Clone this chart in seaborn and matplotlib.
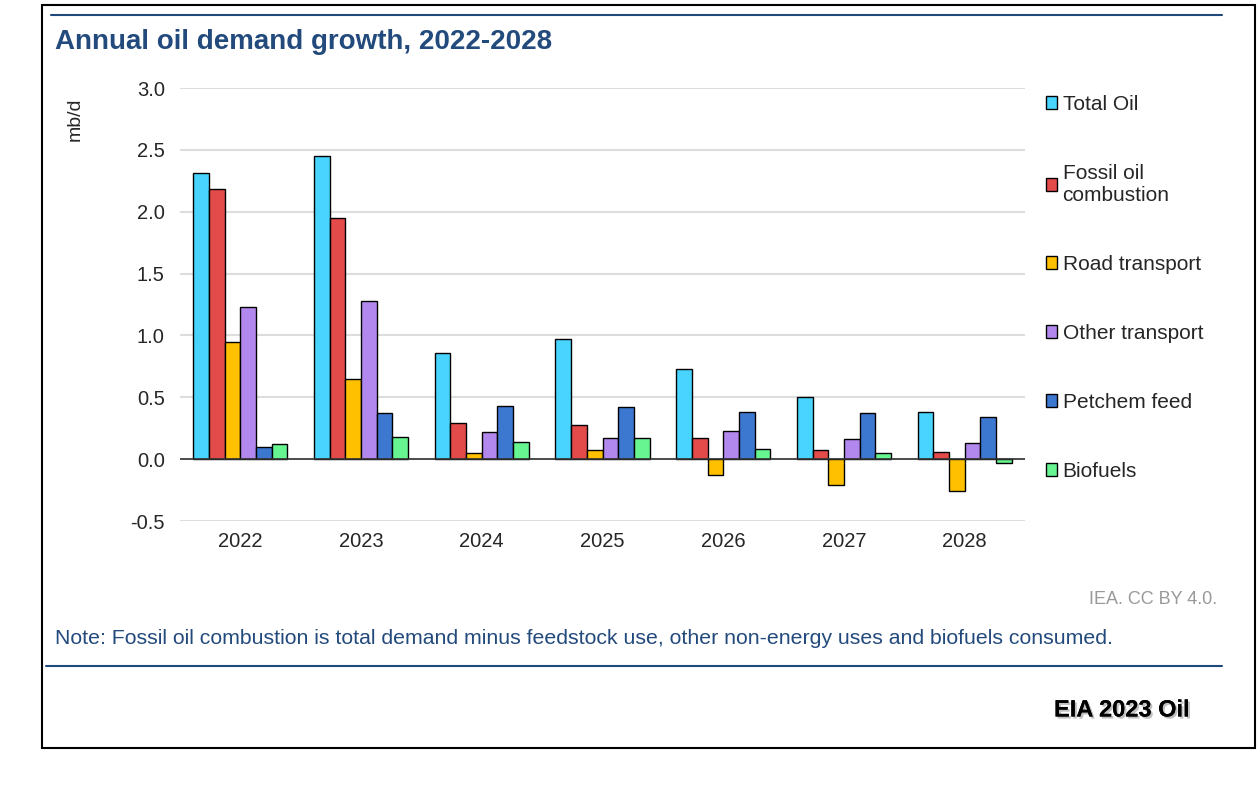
import numpy as np
import pandas as pd
import seaborn as sns
import matplotlib.pyplot as plt
from matplotlib.patches import Rectangle
from matplotlib.lines import Line2D
import matplotlib.patheffects as pe

years = ["2022", "2023", "2024", "2025", "2026", "2027", "2028"]
series_names = ["Total Oil", "Fossil oil\ncombustion", "Road transport",
                "Other transport", "Petchem feed", "Biofuels"]

total_oil = [2.31, 2.45, 0.86, 0.97, 0.73, 0.50, 0.38]
fossil_oil = [2.18, 1.95, 0.29, 0.28, 0.17, 0.07, 0.06]
road_transport = [0.95, 0.65, 0.05, 0.07, -0.13, -0.21, -0.26]
other_transport = [1.23, 1.28, 0.22, 0.17, 0.23, 0.16, 0.13]
petchem_feed = [0.10, 0.37, 0.43, 0.42, 0.38, 0.37, 0.34]
biofuels = [0.12, 0.18, 0.14, 0.17, 0.08, 0.05, -0.03]

colors = ["#48D4FF", "#E34A4A", "#FFC000", "#B388EE", "#3C78D0", "#66F590"]

# tableau long pour seaborn
values = [total_oil, fossil_oil, road_transport, other_transport, petchem_feed, biofuels]
rows = []
for name, vals in zip(series_names, values):
    for y, v in zip(years, vals):
        rows.append({"Year": y, "Series": name, "Value": v})
df = pd.DataFrame(rows)

sns.set_style("white")
plt.rcParams["font.family"] = ["Liberation Sans", "DejaVu Sans"]

fig = plt.figure(figsize=(12.58, 7.92), dpi=100)
ax = fig.add_axes([180 / 1258, 1 - 521 / 792, (1025 - 180) / 1258, (521 - 88) / 792])

sns.barplot(data=df, x="Year", y="Value", hue="Series", hue_order=series_names,
            palette=colors, width=0.78, gap=0, edgecolor="black", linewidth=1,
            saturation=1, ax=ax)

ticks = np.arange(-0.5, 3.01, 0.5)
ax.set_ylim(-0.5, 3.0)
ax.set_yticks(ticks)
ax.set_yticklabels([f"{t:.1f}" for t in ticks])
ax.yaxis.grid(True, color="#dddddd", linewidth=1.5)
ax.set_axisbelow(True)
for s in ax.spines.values():
    s.set_visible(False)
ax.axhline(0, color="#333333", linewidth=1.2, zorder=1.5)
ax.tick_params(axis="both", length=0, labelsize=14.5)
ax.tick_params(axis="y", pad=11)
ax.tick_params(axis="x", pad=8)
ax.set_xlabel("")
ax.set_ylabel("")
fig.text(75 / 1258, 1 - 119 / 792, "mb/d", rotation=90, ha="center", va="center", fontsize=14)

handles, labels = ax.get_legend_handles_labels()
ax.legend(handles, labels, loc="upper left", bbox_to_anchor=(1.01, 1.013), frameon=False,
          fontsize=15, handlelength=0.55, handleheight=0.55, handletextpad=0.25,
          labelspacing=2.4, borderaxespad=0.2)

# cadre et filets
fig.add_artist(Rectangle((42 / 1258, 1 - 748 / 792), (1255 - 42) / 1258, (748 - 5) / 792,
                         transform=fig.transFigure, fill=False, edgecolor="black", linewidth=1.5))
blue = "#1F497D"
fig.add_artist(Line2D([51 / 1258, 1222 / 1258], [1 - 15 / 792] * 2, transform=fig.transFigure,
                      color=blue, linewidth=1.5))
fig.add_artist(Line2D([46 / 1258, 1222 / 1258], [1 - 666 / 792] * 2, transform=fig.transFigure,
                      color=blue, linewidth=1.5))

fig.text(55 / 1258, 1 - 42 / 792, "Annual oil demand growth, 2022-2028", color="#234A7C",
         fontsize=20, fontweight="bold", ha="left", va="center")
fig.text(1217 / 1258, 1 - 600 / 792, "IEA. CC BY 4.0.", color="#999999", fontsize=13,
         ha="right", va="center")
fig.text(55 / 1258, 1 - 638 / 792,
         "Note: Fossil oil combustion is total demand minus feedstock use, other non-energy uses and biofuels consumed.",
         color="#234A7C", fontsize=15.3, ha="left", va="center")
fig.text(1190 / 1258, 1 - 710 / 792, "EIA 2023 Oil", color="black", fontsize=17,
         fontweight="bold", ha="right", va="center",
         path_effects=[pe.withSimplePatchShadow(offset=(1.5, -1.5), shadow_rgbFace="#999999", alpha=0.6), pe.Normal()])

fig.savefig("out.png", dpi=100, facecolor="white")
